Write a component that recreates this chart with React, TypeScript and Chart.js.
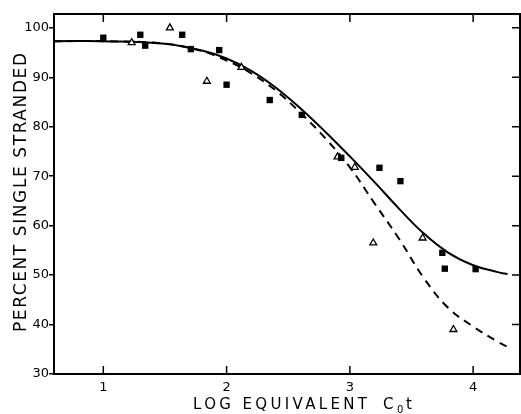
import React, { useEffect, useRef } from "react";
import { Chart, registerables } from "chart.js";
Chart.register(...registerables);

// ---- data ----
const xTicks = [1, 2, 3, 4];
const yTicks = [30, 40, 50, 60, 70, 80, 90, 100];

const squareX = [1.0, 1.3, 1.34, 1.64, 1.71, 1.94, 2.0, 2.35, 2.61, 2.93, 3.24, 3.41, 3.75, 3.77, 4.02];
const squareY = [98.0, 98.6, 96.4, 98.6, 95.7, 95.5, 88.5, 85.4, 82.4, 73.7, 71.7, 69.0, 54.5, 51.3, 51.2];

const triX = [1.23, 1.54, 1.84, 2.12, 2.9, 3.04, 3.19, 3.59, 3.84];
const triY = [97.0, 100.0, 89.2, 92.0, 73.9, 71.8, 56.5, 57.5, 39.0];

const curveX = [0.6, 1.0, 1.5, 1.8, 2.0, 2.2, 2.4, 2.6, 2.8, 3.0, 3.2, 3.4, 3.6, 3.8, 4.0, 4.2, 4.28];
const solidY = [97.3, 97.3, 96.8, 95.4, 93.8, 91.3, 87.9, 83.7, 79.0, 74.0, 68.8, 63.4, 58.4, 54.5, 52.0, 50.6, 50.2];
const dashedY = [97.3, 97.3, 96.8, 95.3, 93.4, 90.8, 87.3, 82.8, 77.7, 71.8, 64.5, 57.3, 49.4, 43.3, 39.6, 36.5, 35.5];

const yTitle = "PERCENT SINGLE STRANDED";
const xTitleMain = "LOG EQUIVALENT";
const xTitleC = "C";
const xTitleSub = "0";
const xTitleT = "t";

const FONT = "'DejaVu Sans', 'Liberation Sans', sans-serif";

function fitText(ctx: CanvasRenderingContext2D, text: string, x: number, y: number, target: number) {
  (ctx as any).letterSpacing = "0px";
  const w = ctx.measureText(text).width;
  const sp = text.length > 1 ? (target - w) / (text.length - 1) : 0;
  (ctx as any).letterSpacing = sp + "px";
  ctx.fillText(text, x, y);
  (ctx as any).letterSpacing = "0px";
}

const framePlugin = {
  id: "frame",
  afterDraw(chart: any) {
    const { ctx, chartArea: a, scales } = chart;
    const xs = scales.x;
    const ys = scales.y;
    ctx.save();
    ctx.strokeStyle = "#000";
    ctx.lineWidth = 2;
    ctx.strokeRect(a.left, a.top, a.right - a.left, a.bottom - a.top);
    ctx.lineWidth = 1.5;
    ctx.beginPath();
    for (const v of xTicks) {
      const px = xs.getPixelForValue(v);
      ctx.moveTo(px, a.bottom);
      ctx.lineTo(px, a.bottom - 8);
      ctx.moveTo(px, a.top);
      ctx.lineTo(px, a.top + 8);
    }
    for (const v of yTicks) {
      if (v === 30) continue;
      const py = ys.getPixelForValue(v);
      ctx.moveTo(a.right, py);
      ctx.lineTo(a.right - 8, py);
    }
    ctx.stroke();

    // titles
    ctx.fillStyle = "#000";
    ctx.textAlign = "left";
    ctx.textBaseline = "alphabetic";
    ctx.font = "15px " + FONT;
    fitText(ctx, xTitleMain, 193, 409, 174);
    ctx.fillText(xTitleC, 383, 409);
    ctx.font = "10px " + FONT;
    ctx.fillText(xTitleSub, 397, 413);
    ctx.font = "15px " + FONT;
    ctx.fillText(xTitleT, 406, 409);

    ctx.translate(26, 332);
    ctx.rotate(-Math.PI / 2);
    ctx.font = "17px " + FONT;
    fitText(ctx, yTitle, 0, 0, 279);
    ctx.restore();
  },
};

export default function App() {
  const ref = useRef<HTMLCanvasElement | null>(null);
  useEffect(() => {
    document.body.style.margin = "0";
    const canvas = ref.current!;
    const squares = squareX.map((x, i) => ({ x, y: squareY[i] }));
    const tris = triX.map((x, i) => ({ x, y: triY[i] }));
    const solid = curveX.map((x, i) => ({ x, y: solidY[i] }));
    const dashed = curveX.map((x, i) => ({ x, y: dashedY[i] }));
    const chart = new Chart(canvas, {
      type: "scatter",
      data: {
        datasets: [
          {
            data: squares,
            pointStyle: "rect",
            pointRadius: 4.5,
            backgroundColor: "#000",
            borderColor: "#000",
            borderWidth: 0,
            order: 0,
          } as any,
          {
            data: tris,
            pointStyle: "triangle",
            pointRadius: 4,
            backgroundColor: "#fff",
            borderColor: "#000",
            borderWidth: 1.3,
            order: 0,
          } as any,
          {
            type: "line",
            data: solid,
            showLine: true,
            pointRadius: 0,
            borderColor: "#000",
            borderWidth: 2,
            tension: 0.4,
            fill: false,
            order: 2,
          } as any,
          {
            type: "line",
            data: dashed,
            showLine: true,
            pointRadius: 0,
            borderColor: "#000",
            borderWidth: 2,
            borderDash: [8, 6],
            tension: 0.4,
            fill: false,
            order: 1,
          } as any,
        ],
      },
      options: {
        responsive: false,
        animation: false,
        devicePixelRatio: 1,
        layout: { autoPadding: false, padding: { top: 14, right: 1, left: 0, bottom: 0 } },
        plugins: { legend: { display: false }, tooltip: { enabled: false } },
        scales: {
          x: {
            type: "linear",
            min: 0.6,
            max: 4.38,
            afterBuildTicks: (s: any) => {
              s.ticks = xTicks.map((v) => ({ value: v }));
            },
            afterFit: (s: any) => {
              s.height = 40;
              s.paddingLeft = 0;
              s.paddingRight = 0;
            },
            grid: { display: false, drawTicks: false },
            border: { display: false },
            ticks: {
              color: "#000",
              font: { family: FONT, size: 13 },
              padding: 6,
              maxRotation: 0,
              callback: (v: any) => String(v),
            },
          },
          y: {
            type: "linear",
            min: 30,
            max: 102.8,
            afterBuildTicks: (s: any) => {
              s.ticks = yTicks.map((v) => ({ value: v }));
            },
            afterFit: (s: any) => {
              s.width = 54;
              s.paddingTop = 0;
              s.paddingBottom = 0;
            },
            grid: {
              display: true,
              drawOnChartArea: false,
              drawTicks: true,
              tickLength: 5,
              color: "#000",
              lineWidth: 1.5,
            },
            border: { display: false },
            ticks: {
              color: "#000",
              font: { family: FONT, size: 13 },
              padding: 0,
              callback: (v: any) => String(v),
            },
          },
        },
      },
      plugins: [framePlugin],
    });
    return () => chart.destroy();
  }, []);
  return (
    <div style={{ width: 521, height: 414, background: "#fff" }}>
      <canvas ref={ref} width={521} height={414} style={{ width: 521, height: 414, display: "block" }} />
    </div>
  );
}
